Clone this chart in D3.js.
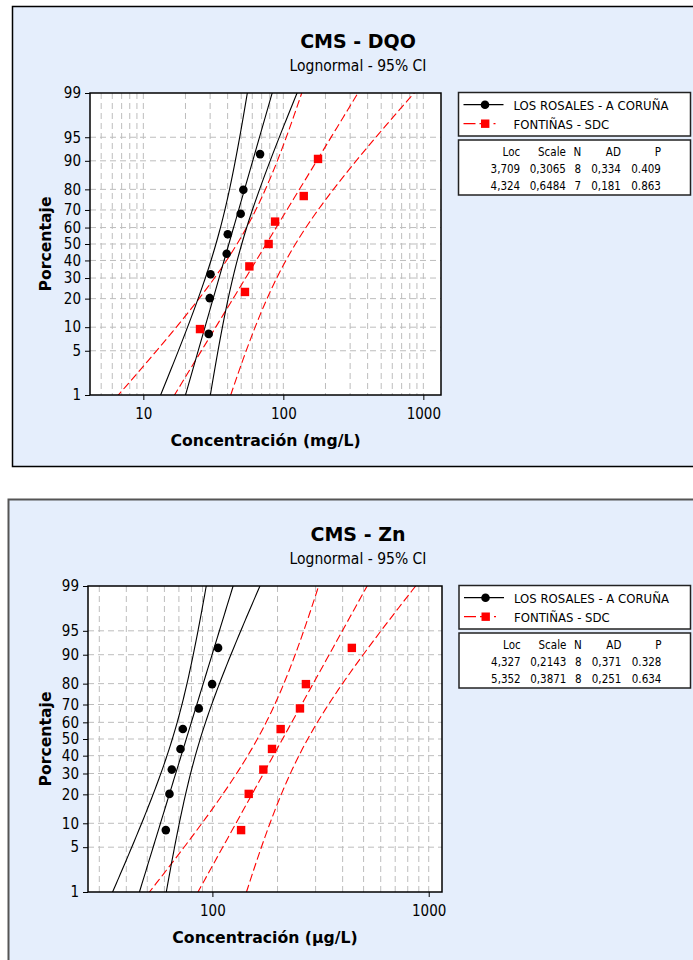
<!DOCTYPE html>
<html>
<head>
<meta charset="utf-8">
<script src="https://cdn.jsdelivr.net/npm/d3@7"></script>
<style>
  body { margin: 0; background: #ffffff; }
  svg text { font-family: "DejaVu Sans Condensed", "DejaVu Sans", sans-serif; fill: #000; }
  svg text.bold { font-family: "DejaVu Sans", sans-serif; font-weight: bold; }
</style>
</head>
<body>
<svg id="chart" width="693" height="960"></svg>
<script>
// ---- data ----
var seriesNames = ["LOS ROSALES - A CORUÑA", "FONTIÑAS - SDC"];
var percentTicks = [1, 5, 10, 20, 30, 40, 50, 60, 70, 80, 90, 95, 99];
var statHeaders = ["Loc", "Scale", "N", "AD", "P"];

// plotting positions (%) for n = 8 and n = 7
var percentN8 = [8.3, 20.2, 32.1, 44.0, 56.0, 67.9, 79.8, 91.7];
var percentN7 = [9.5, 23.0, 36.5, 50.0, 63.5, 77.0, 90.5];

// CMS - DQO (mg/L)
var dqoRosales = [29.3, 29.8, 30.2, 39.4, 40.1, 49.6, 51.8, 68.2];
var dqoFontinas = [25.4, 53.2, 57.2, 78.5, 87.3, 139.9, 176.9];
var dqoLoc = [3.709, 4.324];
var dqoScale = [0.3065, 0.6484];
var dqoN = [8, 7];
var dqoAD = [0.334, 0.181];
var dqoP = [0.409, 0.863];
var dqoTicks = [10, 100, 1000];

// CMS - Zn (µg/L)
var znRosales = [60.9, 63.3, 64.9, 71.2, 73.0, 86.5, 99.7, 106.2];
var znFontinas = [135.7, 147.2, 172.0, 188.6, 206.8, 254.0, 270.6, 441.2];
var znLoc = [4.327, 5.352];
var znScale = [0.2143, 0.3871];
var znN = [8, 8];
var znAD = [0.371, 0.251];
var znP = [0.328, 0.634];
var znTicks = [100, 1000];

// ---- layout ----
var PANELS = [
    {
        title: "CMS - DQO", xLabel: "Concentración (mg/L)",
        box: [12.5, 6.5, 466.5], boxStroke: "#000",
        plot: { l: 90, t: 93, r: 441, b: 395 },
        xDomain: [4.16, 1337], xTicks: dqoTicks,
        legend: { l: 458.5, t: 92.5, r: 690.5 },
        x: [dqoRosales, dqoFontinas], pct: [percentN8, percentN7],
        loc: dqoLoc, scale: dqoScale, n: dqoN, ad: dqoAD, p: dqoP
    },
    {
        title: "CMS - Zn", xLabel: "Concentración (µg/L)",
        box: [8.5, 499.5, 1000], boxStroke: "#555",
        plot: { l: 88, t: 586, r: 442, b: 892 },
        xDomain: [26.6, 1152], xTicks: znTicks,
        legend: { l: 459, t: 585.5, r: 690.5 },
        x: [znRosales, znFontinas], pct: [percentN8, percentN8],
        loc: znLoc, scale: znScale, n: znN, ad: znAD, p: znP
    }
];

var COLORS = ["#000000", "#ff0000"];
var DASH = [null, "8,3.5"];

// inverse standard normal cdf (Acklam)
function qnorm(p) {
    var a = [-39.69683028665376, 220.9460984245205, -275.9285104469687, 138.3577518672690, -30.66479806614716, 2.506628277459239];
    var b = [-54.47609879822406, 161.5858368580409, -155.6989798598866, 66.80131188771972, -13.28068155288572];
    var c = [-0.007784894002430293, -0.3223964580411365, -2.400758277161838, -2.549732539343734, 4.374664141464968, 2.938163982698783];
    var d = [0.007784695709041462, 0.3224671290700398, 2.445134137142996, 3.754408661907416];
    var q, r;
    if (p < 0.02425) {
        q = Math.sqrt(-2 * Math.log(p));
        return (((((c[0] * q + c[1]) * q + c[2]) * q + c[3]) * q + c[4]) * q + c[5]) /
            ((((d[0] * q + d[1]) * q + d[2]) * q + d[3]) * q + 1);
    }
    if (p > 1 - 0.02425) return -qnorm(1 - p);
    q = p - 0.5;
    r = q * q;
    return (((((a[0] * r + a[1]) * r + a[2]) * r + a[3]) * r + a[4]) * r + a[5]) * q /
        (((((b[0] * r + b[1]) * r + b[2]) * r + b[3]) * r + b[4]) * r + 1);
}

function fmtComma(v, k) { return v.toFixed(k).replace(".", ","); }

var svg = d3.select("#chart");

PANELS.forEach(function(P, pi) {
    var g = svg.append("g");
    var pl = P.plot;
    var midX = 358;
    var top = P.box[1];

    // panel background
    g.append("rect")
        .attr("x", P.box[0]).attr("y", P.box[1])
        .attr("width", 720 - P.box[0]).attr("height", P.box[2] - P.box[1])
        .attr("fill", "#e5eefc")
        .attr("stroke", P.boxStroke)
        .attr("stroke-width", pi == 0 ? 1.5 : 2);

    g.append("text").attr("class", "bold").attr("x", midX).attr("y", top + 41.5)
        .attr("text-anchor", "middle")
        .style("font-size", "19px")
        .text(P.title);
    g.append("text").attr("x", midX).attr("y", top + 64.5)
        .attr("text-anchor", "middle")
        .style("font-size", "15.5px")
        .text("Lognormal - 95% CI");

    var x = d3.scaleLog().domain(P.xDomain).range([pl.l, pl.r]);
    var zmax = qnorm(0.99);
    var y = d3.scaleLinear().domain([-zmax, zmax]).range([pl.b, pl.t]);
    var yp = function(pct) { return y(qnorm(pct / 100)); };

    g.append("rect")
        .attr("x", pl.l).attr("y", pl.t)
        .attr("width", pl.r - pl.l).attr("height", pl.b - pl.t)
        .attr("fill", "#ffffff");

    // grid
    var gridX = [];
    for (var e = -1; e <= 4; e++) {
        for (var m = 1; m <= 9; m++) {
            var v = m * Math.pow(10, e);
            if (v > P.xDomain[0] && v < P.xDomain[1]) gridX.push(v);
        }
    }
    g.append("g").selectAll("line").data(gridX).enter().append("line")
        .attr("x1", function(d) { return x(d); }).attr("x2", function(d) { return x(d); })
        .attr("y1", pl.t).attr("y2", pl.b)
        .attr("stroke", "#bdbdbd").attr("stroke-width", 1)
        .attr("stroke-dasharray", "6,4");
    g.append("g").selectAll("line").data(percentTicks.slice(1, -1)).enter().append("line")
        .attr("x1", pl.l).attr("x2", pl.r)
        .attr("y1", function(d) { return yp(d); }).attr("y2", function(d) { return yp(d); })
        .attr("stroke", "#bdbdbd").attr("stroke-width", 1)
        .attr("stroke-dasharray", "6,4");

    // axes
    var yAxis = d3.axisLeft(y)
        .tickValues(percentTicks.map(function(d) { return qnorm(d / 100); }))
        .tickFormat(function(d, i) { return percentTicks[i]; })
        .tickSize(5).tickSizeOuter(0);
    var ya = g.append("g").attr("transform", "translate(" + pl.l + ",0)").call(yAxis);
    ya.select(".domain").remove();
    ya.selectAll("text").style("font-size", "15px").attr("dx", "-1");

    var xAxis = d3.axisBottom(x).tickValues(P.xTicks).tickFormat(d3.format("d"))
        .tickSize(5).tickSizeOuter(0);
    var xa = g.append("g").attr("transform", "translate(0," + pl.b + ")").call(xAxis);
    xa.select(".domain").remove();
    xa.selectAll("text").style("font-size", "15px").attr("dy", "1.05em");
    g.selectAll(".tick line").attr("stroke", "#000");

    g.append("text").attr("class", "bold")
        .attr("x", (pl.l + pl.r) / 2).attr("y", pl.b + 51)
        .attr("text-anchor", "middle")
        .style("font-size", "15.7px")
        .text(P.xLabel);
    g.append("text").attr("class", "bold")
        .attr("transform", "translate(" + 51 + "," + ((pl.t + pl.b) / 2) + ") rotate(-90)")
        .attr("text-anchor", "middle")
        .style("font-size", "15.7px")
        .text("Porcentaje");

    // fitted lines and 95% CI bands
    var clipId = "clip" + pi;
    g.append("clipPath").attr("id", clipId).append("rect")
        .attr("x", pl.l).attr("y", pl.t)
        .attr("width", pl.r - pl.l).attr("height", pl.b - pl.t);
    var lines = g.append("g").attr("clip-path", "url(#" + clipId + ")");
    var zs = d3.range(-2.5, 2.51, 0.05);
    var line = d3.line()
        .x(function(d) { return x(Math.exp(d[0])); })
        .y(function(d) { return y(d[1]); });

    [1, 0].forEach(function(s) {
        var mu = P.loc[s], sg = P.scale[s], n = P.n[s];
        [-1, 0, 1].forEach(function(side) {
            var pts = zs.map(function(z) {
                var se = sg * Math.sqrt(1 / n + z * z / (2 * n));
                return [mu + z * sg + side * 1.96 * se, z];
            });
            lines.append("path")
                .attr("d", line(pts))
                .attr("fill", "none")
                .attr("stroke", COLORS[s]).attr("stroke-width", 1.1)
                .attr("stroke-dasharray", DASH[s]);
        });
    });

    // data points
    g.append("g").selectAll("circle").data(P.x[0]).enter().append("circle")
        .attr("cx", function(d) { return x(d); })
        .attr("cy", function(d, i) { return yp(P.pct[0][i]); })
        .attr("r", 4.3).attr("fill", COLORS[0]);
    g.append("g").selectAll("rect").data(P.x[1]).enter().append("rect")
        .attr("x", function(d) { return x(d) - 4.2; })
        .attr("y", function(d, i) { return yp(P.pct[1][i]) - 4.2; })
        .attr("width", 8.4).attr("height", 8.4).attr("fill", COLORS[1]);

    // plot frame
    g.append("rect")
        .attr("x", pl.l).attr("y", pl.t)
        .attr("width", pl.r - pl.l).attr("height", pl.b - pl.t)
        .attr("fill", "none").attr("stroke", "#000").attr("stroke-width", 1.5);

    // legend
    var L = P.legend;
    g.append("rect").attr("x", L.l).attr("y", L.t)
        .attr("width", L.r - L.l).attr("height", 43.5)
        .attr("fill", "#fff").attr("stroke", "#222").attr("stroke-width", 1.5);
    seriesNames.forEach(function(name, s) {
        var ly = L.t + 12.2 + s * 19;
        g.append("line").attr("x1", L.l + 5).attr("x2", L.l + 45)
            .attr("y1", ly).attr("y2", ly)
            .attr("stroke", COLORS[s]).attr("stroke-width", 1.2)
            .attr("stroke-dasharray", s == 1 ? "12,4,9,5,2" : null);
        if (s == 0) {
            g.append("circle").attr("cx", L.l + 26.5).attr("cy", ly).attr("r", 4.3).attr("fill", COLORS[0]);
        } else {
            g.append("rect").attr("x", L.l + 22.5).attr("y", ly - 4.2)
                .attr("width", 8.4).attr("height", 8.4).attr("fill", COLORS[1]);
        }
        g.append("text").attr("x", L.l + 55).attr("y", ly + 5)
            .style("font-size", "13px").text(name);
    });

    // stats table
    var st = L.t + 47.5;
    g.append("rect").attr("x", L.l).attr("y", st)
        .attr("width", L.r - L.l).attr("height", 55)
        .attr("fill", "#fff").attr("stroke", "#222").attr("stroke-width", 1.5);
    var colRight = [61.7, 107.4, 122.7, 162.4, 202.4];
    var rows = [statHeaders].concat([0, 1].map(function(s) {
        return [fmtComma(P.loc[s], 3), fmtComma(P.scale[s], 4), String(P.n[s]),
            fmtComma(P.ad[s], 3), P.p[s].toFixed(3)];
    }));
    rows.forEach(function(row, r) {
        row.forEach(function(cell, c) {
            g.append("text")
                .attr("x", L.l + colRight[c]).attr("y", st + 15.8 + r * 17.2)
                .attr("text-anchor", "end")
                .style("font-size", "11.5px").text(cell);
        });
    });
});
</script>
</body>
</html>
